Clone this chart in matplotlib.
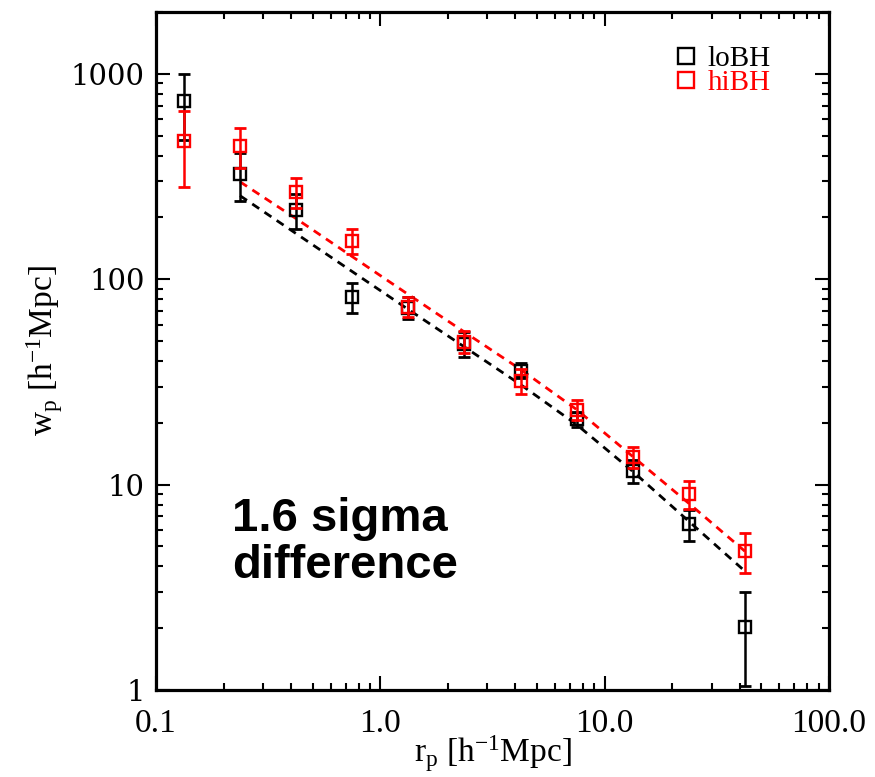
import matplotlib as mpl
mpl.use('Agg')
import matplotlib.pyplot as plt
from matplotlib.ticker import FixedLocator, NullFormatter

mpl.rcParams['font.family'] = 'serif'
mpl.rcParams['font.serif'] = ['Liberation Serif', 'DejaVu Serif']
mpl.rcParams['mathtext.fontset'] = 'custom'
mpl.rcParams['mathtext.rm'] = 'Liberation Serif'
mpl.rcParams['mathtext.it'] = 'Liberation Serif:italic'

# projected separation bins [h^-1 Mpc]
rp = [0.133, 0.237, 0.422, 0.750, 1.334, 2.371, 4.217, 7.499, 13.34, 23.71, 42.17]

wp_lo = [738, 326, 218, 82.3, 72.8, 48.6, 35.9, 20.8, 11.7, 6.41, 2.02]
err_lo = [262, 85, 42, 14, 9, 7, 3, 1.8, 1.5, 1.1, 0.97]
wp_hi = [472, 446, 267, 154, 73.5, 49.7, 32.1, 23.2, 13.6, 9.0, 4.75]
err_hi = [190, 97, 45, 22, 8, 6, 4.5, 2.5, 1.6, 1.4, 1.05]

# model fits (dashed), evaluated at rp[1:]
fit_lo = [255, 166.6, 108.9, 71.2, 46.8, 30.7, 19.6, 11.6, 6.63, 3.79]
fit_hi = [298, 197, 128.8, 84.2, 55.3, 36.4, 23.2, 13.7, 8.11, 4.74]

xticks = [0.1, 1.0, 10.0, 100.0]
xticklabels = ['0.1', '1.0', '10.0', '100.0']
yticks = [1, 10, 100, 1000]
yticklabels = ['1', '10', '100', '1000']

fig = plt.figure(figsize=(8.75, 7.77), dpi=100)
ax = fig.add_axes([156 / 875, 1 - 690 / 777, 673 / 875, 678 / 777])

dash = (0, (3, 2.3))
ax.plot(rp[1:], fit_lo, color='black', lw=2, linestyle=dash)
ax.plot(rp[1:], fit_hi, color='red', lw=2, linestyle=dash)

for wp, err, c, lab in [(wp_lo, err_lo, 'black', 'loBH'), (wp_hi, err_hi, 'red', 'hiBH')]:
    ax.errorbar(rp, wp, yerr=err, fmt='none', ecolor=c, elinewidth=1.8,
                capsize=4.5, capthick=2)
    ax.plot(rp, wp, 's', mfc='none', mec=c, color=c, ms=9, mew=1.7,
            linestyle='none', label=lab)

ax.set_xscale('log')
ax.set_yscale('log')
ax.set_xlim(0.1, 100)
ax.set_ylim(1, 2000)

ax.xaxis.set_major_locator(FixedLocator(xticks))
ax.set_xticklabels(xticklabels, fontsize=24)
ax.yaxis.set_major_locator(FixedLocator(yticks))
ax.set_yticklabels(yticklabels, fontsize=21, family='DejaVu Serif')
ax.xaxis.set_minor_formatter(NullFormatter())
ax.yaxis.set_minor_formatter(NullFormatter())

ax.tick_params(which='both', direction='in', top=True, right=True, width=1.5)
ax.tick_params(which='major', length=10)
ax.tick_params(which='minor', length=5)
ax.tick_params(axis='x', which='major', pad=13)
ax.tick_params(axis='y', which='major', pad=8)
for s in ax.spines.values():
    s.set_linewidth(2.3)

ax.set_xlabel('r$_{\\rm p}$ [h$^{-1}$Mpc]', fontsize=24, labelpad=-4)
ax.set_ylabel('w$_{\\rm p}$ [h$^{-1}$Mpc]', fontsize=24, labelpad=4)

ax.text(0.113, 0.285, '1.6 sigma\ndifference', transform=ax.transAxes,
        family='Liberation Sans', fontweight='bold', fontsize=34,
        va='top', ha='left', linespacing=1.1)

leg = ax.legend(loc='upper right', bbox_to_anchor=(0.935, 0.972), frameon=False,
                fontsize=21, labelspacing=-0.08, handletextpad=0.25,
                handlelength=1.0, borderpad=0, markerscale=1.3,
                labelcolor=['black', 'red'])

fig.savefig('out.png', dpi=100)
